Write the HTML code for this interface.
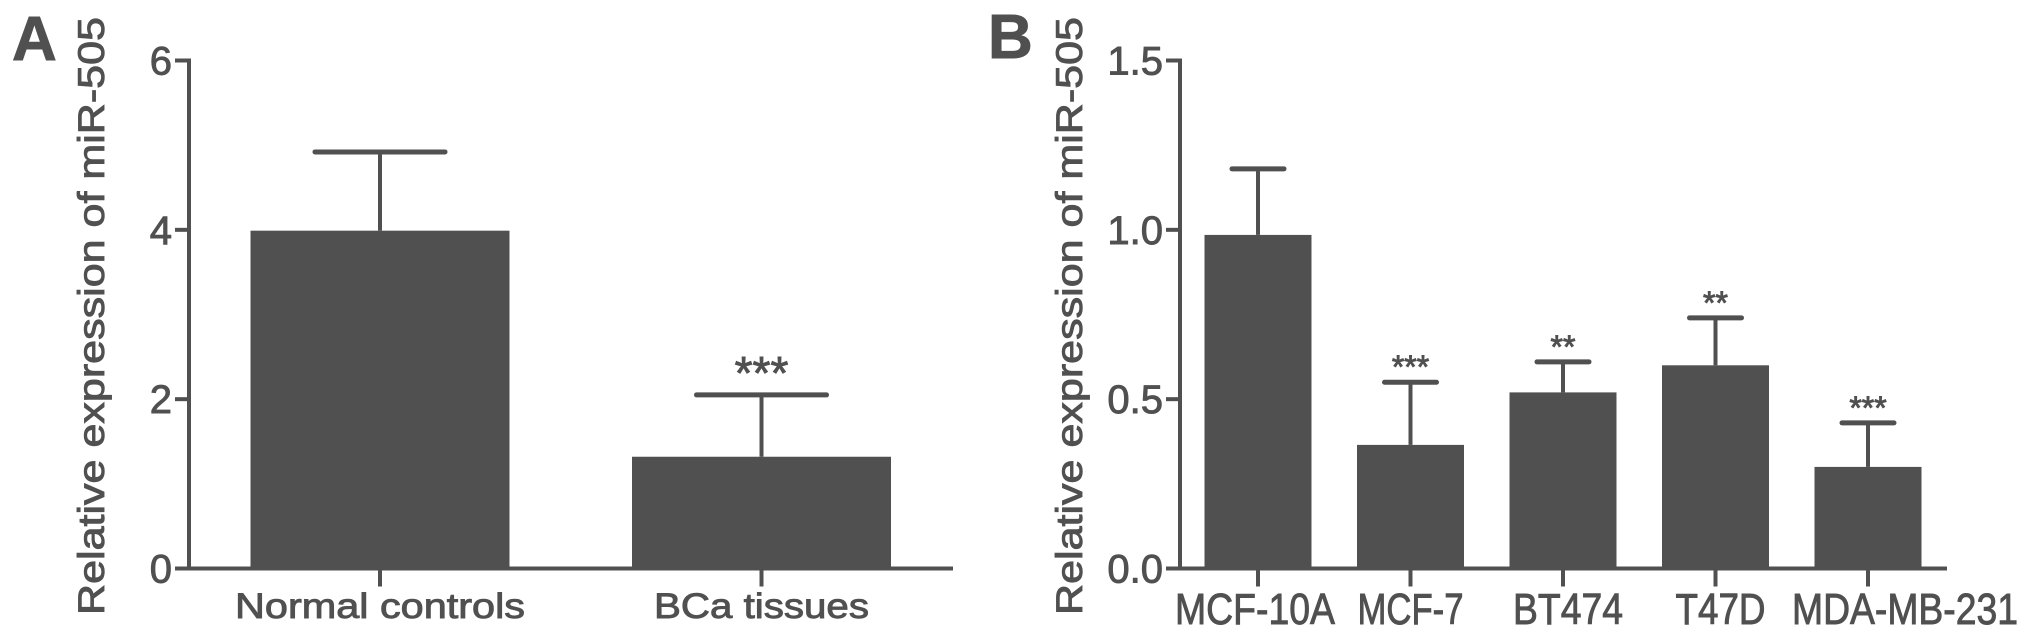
<!DOCTYPE html>
<html><head><meta charset="utf-8"><style>
html,body{margin:0;padding:0;background:#fff;}
svg{display:block;font-family:"Liberation Sans",Arial,sans-serif;}
svg text{stroke:#505050;stroke-width:0.9;}
</style></head><body>
<svg id="chart" width="2031" height="632" viewBox="0 0 2031 632">
<text x="12" y="60" font-size="62" font-weight="bold" fill="#505050">A</text>
<text x="988" y="58" font-size="62" font-weight="bold" fill="#505050">B</text>
<g id="pa"></g>
<g id="pb"></g>
</svg>
<script>
const catsA = ["Normal controls", "BCa tissues"];
const valsA = [3.99, 1.32];
const errA = [4.92, 2.05];
const sigA = ["", "***"];
const ticksA = [0, 2, 4, 6];
const tickLabelsA = ["0", "2", "4", "6"];

const catsB = ["MCF-10A", "MCF-7", "BT474", "T47D", "MDA-MB-231"];
const valsB = [0.985, 0.365, 0.52, 0.60, 0.30];
const errB = [1.18, 0.55, 0.61, 0.74, 0.43];
const sigB = ["", "***", "**", "**", "***"];
const ticksB = [0, 0.5, 1.0, 1.5];
const tickLabelsB = ["0.0", "0.5", "1.0", "1.5"];

const NS = "http://www.w3.org/2000/svg";
const COL = "#505050";
function mk(parent, tag, attrs, text){
  const e = document.createElementNS(NS, tag);
  for (const k in attrs) e.setAttribute(k, attrs[k]);
  if (text !== undefined) e.textContent = text;
  parent.appendChild(e);
  return e;
}
function panel(g, cfg){
  const y0 = 568.5, yTop = 60.5;
  const yScale = v => y0 - (v / cfg.ymax) * (y0 - yTop);
  const xCenter = i => cfg.firstCenter + i * cfg.pitch;
  const ya = mk(g, "line", {x1:cfg.ax, y1:yTop-2, x2:cfg.ax, y2:y0, stroke:COL, "stroke-width":4});
  
  
  const xa = mk(g, "line", {x1:cfg.ax-14, y1:y0, x2:cfg.axEnd, y2:y0, stroke:COL, "stroke-width":4});
  
  
  cfg.ticks.forEach((t, i) => {
    const y = yScale(t);
    const tl = mk(g, "line", {x1:cfg.ax-14, y1:y, x2:cfg.ax, y2:y, stroke:COL, "stroke-width":4});
    
    
    const tx = mk(g, "text", {x:cfg.ax-17, y:y+14, "font-size":cfg.tickSize, "text-anchor":"end", fill:COL}, cfg.tickLabels[i]);
    
    
  });
  const title = mk(g, "text", {x:0, y:0, "font-size":37, fill:COL, "text-anchor":"middle",
    textLength:598, lengthAdjust:"spacingAndGlyphs",
    transform:`translate(${cfg.titleX},316) rotate(-90)`}, "Relative expression of miR-505");
  
  
  cfg.cats.forEach((c, i) => {
    const cx = xCenter(i);
    const yv = yScale(cfg.vals[i]), ye = yScale(cfg.err[i]);
    const el = mk(g, "line", {x1:cx, y1:ye, x2:cx, y2:yv, stroke:COL, "stroke-width":4});
    
    
    const cap = mk(g, "line", {x1:cx-cfg.cap, y1:ye, x2:cx+cfg.cap, y2:ye, stroke:COL, "stroke-width":5, "stroke-linecap":"round"});
    
    
    const bar = mk(g, "rect", {x:cx-cfg.bw/2, y:yv, width:cfg.bw, height:y0-yv, fill:COL});
    
    
    const tk = mk(g, "line", {x1:cx, y1:y0, x2:cx, y2:y0+18, stroke:COL, "stroke-width":4});
    
    
    const lab = mk(g, "text", {x:cx + cfg.labDx[i], y:cfg.labY, "font-size":cfg.labSize, "text-anchor":"middle", fill:COL,
      textLength:cfg.labLen[i], lengthAdjust:"spacingAndGlyphs"}, c);
    
    
    if (cfg.sig[i]) {
      const s = mk(g, "text", {x:cx, y:ye-cfg.sigOff, "font-size":cfg.sigSize, "text-anchor":"middle", fill:COL}, cfg.sig[i]);
      
      
    }
  });
}
panel(document.getElementById("pa"), {
  ax:189, axEnd:953, ymax:6, ticks:ticksA, tickLabels:tickLabelsA, titleX:104, tickSize:40,
  cats:catsA, vals:valsA, err:errA, sig:sigA, firstCenter:380, pitch:381.5, bw:259, cap:65,
  labLen:[290, 215], labDx:[0, 0], labY:618, labSize:35, sigSize:46, sigOff:6
});
panel(document.getElementById("pb"), {
  ax:1180, axEnd:1947, ymax:1.5, ticks:ticksB, tickLabels:tickLabelsB, titleX:1082, tickSize:40,
  cats:catsB, vals:valsB, err:errB, sig:sigB, firstCenter:1258, pitch:152.5, bw:107, cap:26,
  labLen:[160, 106, 110, 90, 226], labDx:[-3, 0, 5, 5, 37], labY:624, labSize:44, sigSize:32, sigOff:4
});
</script>
</body></html>
